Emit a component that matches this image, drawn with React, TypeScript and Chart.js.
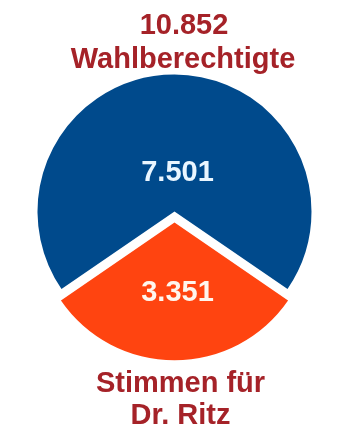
import { useEffect, useRef } from "react";
import { Chart, registerables } from "chart.js";

Chart.register(...registerables);

const categories = ["Übrige Wahlberechtigte", "Stimmen für Dr. Ritz"];
const values = [7501, 3351];
const valueLabels = ["7.501", "3.351"];
const titleLines = ["10.852", "Wahlberechtigte"];
const footerLines = ["Stimmen für", "Dr. Ritz"];

const sliceColors = ["#004a8c", "#ff4410"];
const labelColors = ["#eaf6ff", "#fff6ee"];
const sliceOffsets = [0, 44];
const labelRadius = [0.3, 0.497];
const textColor = "#a52228";
const FONT = 'bold 29px "Liberation Sans", Arial, sans-serif';

const total = values.reduce((a, b) => a + b, 0);
const lastAngle = (values[values.length - 1] / total) * 360;
const rotation = 180 - (360 - lastAngle) - lastAngle / 2;

const textPlugin = {
  id: "textPlugin",
  afterDatasetsDraw(chart: any) {
    const ctx = chart.ctx as CanvasRenderingContext2D;
    const meta = chart.getDatasetMeta(0);
    ctx.save();
    ctx.font = FONT;
    ctx.textAlign = "center";
    ctx.textBaseline = "alphabetic";
    const cap = 20.8;
    meta.data.forEach((arc: any, i: number) => {
      const p = arc.getProps(["x", "y", "startAngle", "endAngle", "outerRadius"], true);
      const mid = (p.startAngle + p.endAngle) / 2;
      const off = sliceOffsets[i] / 4;
      const r = labelRadius[i] * p.outerRadius + off;
      ctx.fillStyle = labelColors[i];
      ctx.fillText(valueLabels[i], p.x + Math.cos(mid) * r + 3, p.y + Math.sin(mid) * r + cap / 2);
    });
    ctx.fillStyle = textColor;
    ctx.fillText(titleLines[0], 184, 34);
    ctx.fillText(titleLines[1], 183, 67.5);
    ctx.fillText(footerLines[0], 180.5, 391.5);
    ctx.fillText(footerLines[1], 180.5, 424);
    ctx.restore();
  },
};

export default function App() {
  const ref = useRef<HTMLCanvasElement | null>(null);
  useEffect(() => {
    if (!ref.current) return;
    const chart = new Chart(ref.current, {
      type: "pie",
      data: {
        labels: categories,
        datasets: [
          {
            data: values,
            backgroundColor: sliceColors,
            borderWidth: 0,
            offset: sliceOffsets,
          },
        ],
      },
      options: {
        responsive: false,
        animation: false,
        events: [],
        rotation: rotation,
        radius: 137,
        layout: { padding: { left: 0, right: 6, top: 0, bottom: 16 } },
        plugins: {
          legend: { display: false },
          tooltip: { enabled: false },
          title: { display: false },
        },
      },
      plugins: [textPlugin],
    });
    return () => chart.destroy();
  }, []);
  return (
    <div style={{ position: "fixed", left: 0, top: 0, width: 355, height: 439, background: "#fff" }}>
      <canvas ref={ref} width={355} height={439} />
    </div>
  );
}
